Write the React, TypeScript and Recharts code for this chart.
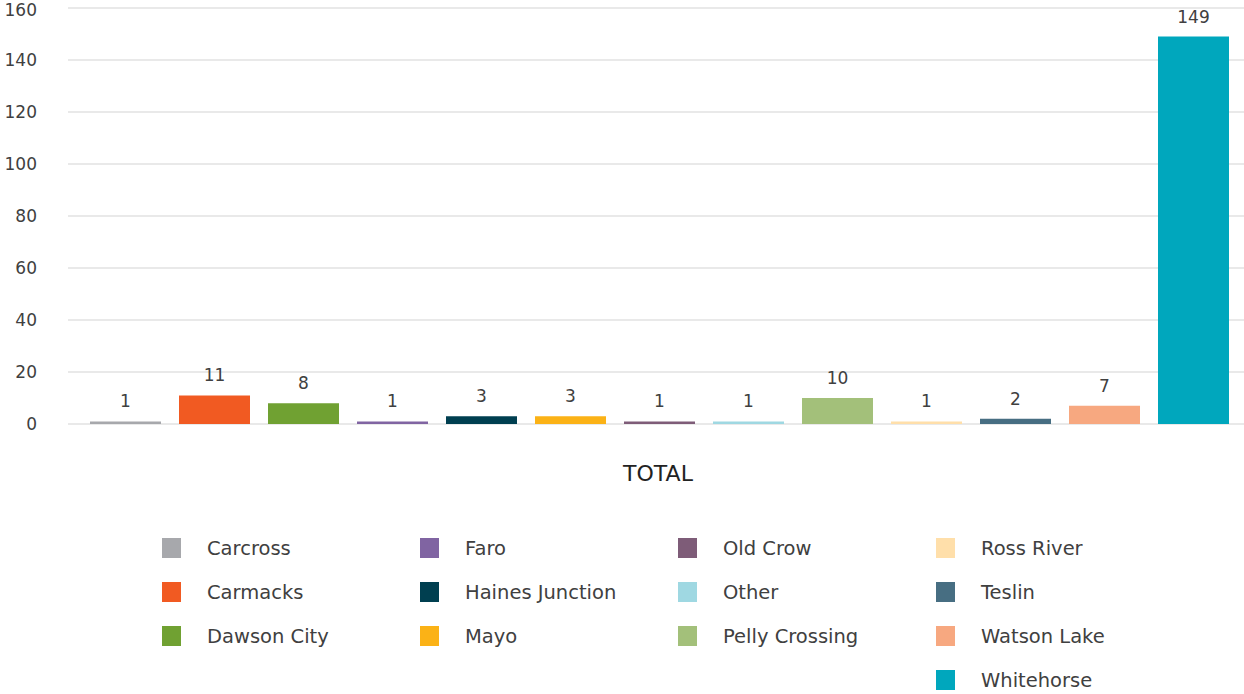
import React from "react";
import {
  Bar,
  BarChart,
  CartesianGrid,
  LabelList,
  XAxis,
  YAxis,
} from "recharts";

const communities = [
  "Carcross",
  "Carmacks",
  "Dawson City",
  "Faro",
  "Haines Junction",
  "Mayo",
  "Old Crow",
  "Other",
  "Pelly Crossing",
  "Ross River",
  "Teslin",
  "Watson Lake",
  "Whitehorse",
];
const totals = [1, 11, 8, 1, 3, 3, 1, 1, 10, 1, 2, 7, 149];
const barColors = [
  "#a7a8ac",
  "#f15a22",
  "#70a132",
  "#8064a2",
  "#003f50",
  "#fbb216",
  "#7e5c78",
  "#9fd8e2",
  "#a3c07a",
  "#ffdfaa",
  "#476e82",
  "#f7a880",
  "#00a7bd",
];
const yTicks = [0, 20, 40, 60, 80, 100, 120, 140, 160];
const category = "TOTAL";

const row: Record<string, any> = { name: category };
communities.forEach((c, i) => {
  row[c] = totals[i];
});
const chartData = [row];

const font = "'DejaVu Sans', sans-serif";
const textColor = "#404040";

// legend is laid out column by column, 3 rows then next column (last one has 4)
const legendColumns = [
  communities.slice(0, 3),
  communities.slice(3, 6),
  communities.slice(6, 9),
  communities.slice(9, 13),
];

function ChartLegend() {
  return (
    <div
      style={{
        display: "flex",
        paddingLeft: 162,
        fontFamily: font,
        fontSize: 19.5,
        color: textColor,
      }}
    >
      {legendColumns.map((col, ci) => (
        <div key={ci} style={{ width: 258 }}>
          {col.map((name) => (
            <div
              key={name}
              style={{ display: "flex", alignItems: "center", height: 44 }}
            >
              <span
                style={{
                  width: 19,
                  height: 20,
                  background: barColors[communities.indexOf(name)],
                  display: "inline-block",
                  marginRight: 26,
                }}
              />
              <span>{name}</span>
            </div>
          ))}
        </div>
      ))}
    </div>
  );
}

export default function App() {
  return (
    <div
      style={{
        position: "absolute",
        left: 0,
        top: 0,
        width: 1244,
        height: 694,
        background: "#fff",
        overflow: "hidden",
      }}
    >
      <BarChart
        width={1248}
        height={494}
        data={chartData}
        margin={{ top: 8, right: 0, bottom: 0, left: 0 }}
        barCategoryGap={22}
        barGap={18}
      >
        <CartesianGrid
          vertical={false}
          stroke="#e2e2e2"
          strokeWidth={1.5}
        />
        <XAxis
          dataKey="name"
          axisLine={false}
          tickLine={false}
          height={70}
          tickMargin={35}
          tick={{ fill: "#222", fontSize: 22, fontFamily: font }}
        />
        <YAxis
          width={68}
          domain={[0, 160]}
          ticks={yTicks}
          axisLine={false}
          tickLine={false}
          tickMargin={25}
          tick={{ fill: textColor, fontSize: 17, fontFamily: font }}
        />
        {communities.map((c, i) => (
          <Bar
            key={c}
            dataKey={c}
            fill={barColors[i]}
            isAnimationActive={false}
          >
            <LabelList
              dataKey={c}
              position="top"
              offset={14}
              fill={textColor}
              fontSize={17}
              fontFamily={font}
            />
          </Bar>
        ))}
      </BarChart>
      <div style={{ marginTop: 32 }}>
        <ChartLegend />
      </div>
    </div>
  );
}
